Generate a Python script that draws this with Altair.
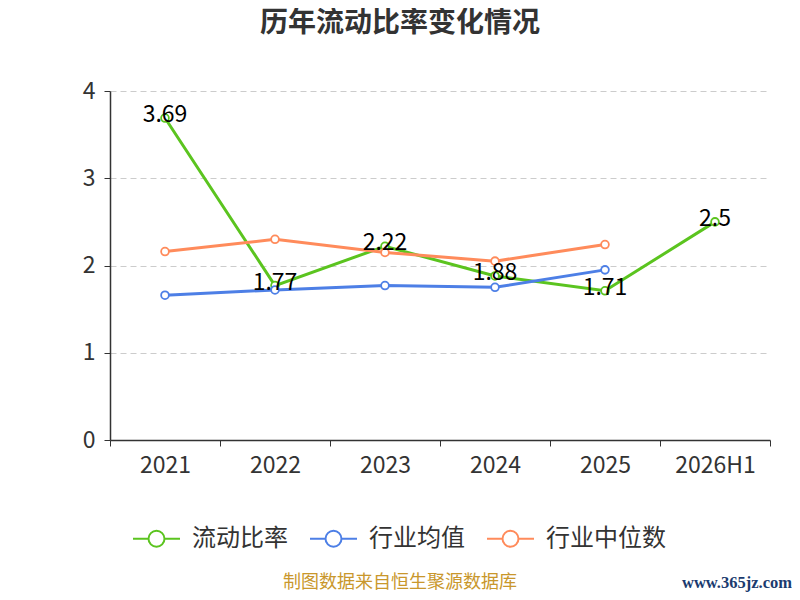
import altair as alt
import pandas as pd

categories = ["2021", "2022", "2023", "2024", "2025", "2026H1"]
current_ratio = [3.69, 1.77, 2.22, 1.88, 1.71, 2.5]
industry_mean = [1.66, 1.72, 1.77, 1.75, 1.95]
industry_median = [2.16, 2.30, 2.15, 2.05, 2.24]
series_names = ["流动比率", "行业均值", "行业中位数"]
colors = ["#5bc41f", "#4d7fe6", "#ff8b5b"]
title_text = ["历年流动比率变化情况"]
footer_text = ["制图数据来自恒生聚源数据库"]
watermark_text = ["www.365jz.com"]

rows = []
for name, vals in zip(series_names, [current_ratio, industry_mean, industry_median]):
    for c, v in zip(categories, vals):
        rows.append({"year": c, "value": v, "series": name})
df = pd.DataFrame(rows)

font = "Noto Sans CJK SC"

x = alt.X(
    "year:N", sort=categories,
    scale=alt.Scale(type="band", domain=categories, paddingInner=0, paddingOuter=0),
    axis=alt.Axis(title=None, labelAngle=0, tickBand="extent", grid=False,
                  domainColor="#333", tickColor="#333", tickSize=6, domainWidth=1.5,
                  labelFontSize=23, labelColor="#333", labelPadding=8, labelFont=font),
)
y = alt.Y(
    "value:Q", scale=alt.Scale(domain=[0, 4]),
    axis=alt.Axis(title=None, values=[0, 1, 2, 3, 4], grid=True, gridDash=[6, 4],
                  gridColor="#cccccc", domainColor="#333", tickColor="#333", tickSize=6,
                  domainWidth=1.5, labelFontSize=23, labelColor="#333", labelPadding=9,
                  labelFont=font),
)

sym = "M-1,0L-0.34,0M1,0L0.34,0M0.34,0A0.34,0.34,0,1,1,-0.34,0A0.34,0.34,0,1,1,0.34,0"

base = alt.Chart(df)
lines = base.mark_line(strokeWidth=3).encode(
    x=x, y=y,
    color=alt.Color("series:N", sort=series_names,
                    scale=alt.Scale(domain=series_names, range=colors),
                    legend=alt.Legend(title=None, orient="none", direction="horizontal",
                                      legendX=22, legendY=423, symbolType=sym,
                                      symbolSize=2209, symbolStrokeWidth=2,
                                      labelFontSize=24, labelColor="#333", labelFont=font,
                                      columnPadding=18, labelOffset=11)),
    detail="series:N",
)
points = base.mark_point(filled=True, fill="white", size=60, strokeWidth=1.8, opacity=1).encode(
    x=x, y=y,
    stroke=alt.Stroke("series:N", scale=alt.Scale(domain=series_names, range=colors), legend=None),
)
labels = base.transform_filter(alt.datum.series == "流动比率").mark_text(
    dy=-3, fontSize=23, color="black", font=font
).encode(x=x, y=y, text=alt.Text("value:Q"))

title = alt.Chart(pd.DataFrame({"t": title_text})).mark_text(
    fontSize=28, color="#333", font=font, fontWeight="bold", baseline="middle"
).encode(x=alt.value(290), y=alt.value(-67), text="t:N")
footer = alt.Chart(pd.DataFrame({"t": footer_text})).mark_text(
    fontSize=18, color="#c9972c", font=font
).encode(x=alt.value(290), y=alt.value(492), text="t:N")
watermark = alt.Chart(pd.DataFrame({"t": watermark_text})).mark_text(
    fontSize=16.5, color="#1b3b6f", font="Liberation Serif", fontWeight="bold"
).encode(x=alt.value(627), y=alt.value(492), text="t:N")

chart = alt.layer(lines, points, labels, title, footer, watermark).properties(
    width=660, height=349,
    autosize=alt.AutoSizeParams(type="none"),
    padding={"left": 102, "top": 83, "right": 22, "bottom": 152},
).configure_view(stroke=None)

chart.save("out.html", embed_options={"renderer": "svg", "actions": False})
